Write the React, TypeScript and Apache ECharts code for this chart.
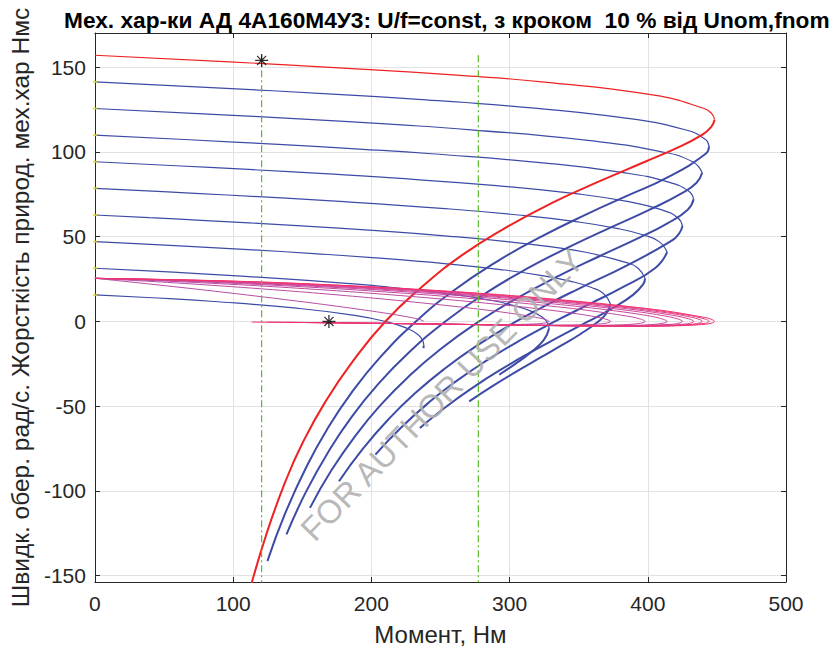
import React, { useEffect, useRef } from 'react';
import * as echarts from 'echarts';

// ---- Speed characteristics ω(M): upper (stable) and lower branches ----
const speed100Upper = [[0,157.08],[97.4,153.15],[185.9,149.23],[261.9,145.3],[323.4,141.37],[404.6,133.52],[440.8,125.66],[446.4,122.52],[448.3,119.06]];
const speed100Lower = [[448.3,119.06],[445.8,114.67],[438.9,109.96],[420.4,102.1],[398.0,94.25],[364.4,82.47],[332.6,70.69],[296.4,54.98],[265.9,39.27],[235.5,19.64],[210.1,0],[186.5,-23.56],[166.9,-47.12],[150.8,-70.69],[137.9,-94.25],[124.0,-125.66],[112.5,-157.08]];
const speed90Upper = [[0,141.37],[87.8,137.84],[168.6,134.3],[239.5,130.77],[298.9,127.23],[382.8,120.17],[427.1,113.1],[441.7,107.44],[444.3,103.38]];
const speed90Lower = [[444.3,103.38],[441.9,98.96],[413.9,84.82],[385.3,74.22],[356.7,63.62],[321.5,49.48],[290.8,35.34],[258.6,17.67],[232.2,0],[206.3,-21.21],[185.3,-42.41],[168.0,-63.62],[153.6,-84.82],[137.7,-113.1],[124.8,-141.37]];
const speed80Upper = [[0,125.66],[78.2,122.52],[150.9,119.38],[216.0,116.24],[272.2,113.1],[356.7,106.81],[407.5,100.53],[432.4,94.25],[439.4,87.71]];
const speed80Lower = [[439.4,87.71],[435.1,81.68],[424.1,75.4],[401.4,65.97],[376.1,56.55],[343.2,43.98],[313.2,31.42],[280.8,15.71],[253.5,0],[226.4,-18.85],[204.1,-37.7],[185.5,-56.55],[170.0,-75.4],[152.7,-100.53],[138.6,-125.66]];
const speed70Upper = [[0,109.96],[68.5,107.21],[132.8,104.46],[191.5,101.71],[243.4,98.96],[326.0,93.46],[381.3,87.96],[413.9,82.47],[429.5,76.97],[433.2,72.06]];
const speed70Lower = [[433.2,72.06],[428.9,65.97],[413.9,57.73],[393.9,49.48],[365.0,38.48],[337.0,27.49],[305.4,13.74],[277.8,0],[249.7,-16.49],[226.3,-32.99],[206.5,-49.48],[189.8,-65.97],[171.0,-87.96],[155.6,-109.96]];
const speed60Upper = [[0,94.25],[58.8,91.89],[114.4,89.54],[166.0,87.18],[212.7,84.82],[290.6,80.11],[347.7,75.4],[386.2,70.69],[409.7,65.97],[421.6,61.26],[425.1,56.44]];
const speed60Lower = [[425.1,56.44],[422.6,51.84],[416.1,47.12],[384.7,32.99],[348.8,18.85],[325.9,9.42],[304.8,0],[276.6,-14.14],[252.4,-28.27],[231.6,-42.41],[213.7,-56.55],[193.5,-75.4],[176.6,-94.25]];
const speed50Upper = [[0,78.54],[49.1,76.58],[95.8,74.61],[180.3,70.69],[250.7,66.76],[306.3,62.83],[348.0,58.91],[377.5,54.98],[396.9,51.05],[408.2,47.12],[414.0,40.88]];
const speed50Lower = [[414.0,40.88],[405.2,31.42],[380.6,19.64],[356.6,9.82],[332.8,0],[306.2,-11.78],[282.4,-23.56],[261.2,-35.34],[242.6,-47.12],[221.2,-62.83],[202.9,-78.54]];
const speed40Upper = [[0,62.83],[39.3,61.26],[76.9,59.69],[146.2,56.55],[206.5,53.41],[257.0,50.27],[298.2,47.12],[330.6,43.98],[355.2,40.84],[385.3,34.56],[393.0,31.42],[398.0,25.43]];
const speed40Lower = [[398.0,25.43],[396.7,21.99],[389.3,15.71],[374.5,7.85],[356.9,0],[335.0,-9.42],[313.8,-18.85],[294.0,-28.27],[275.8,-37.7],[254.1,-50.27],[235.1,-62.83]];
const speed30Upper = [[0,47.12],[29.5,45.95],[57.9,44.77],[110.9,42.41],[158.5,40.06],[200.4,37.7],[252.8,34.16],[293.4,30.63],[323.6,27.1],[345.1,23.56],[359.3,20.03],[367.9,16.49],[373.0,10.27]];
const speed30Lower = [[373.0,10.27],[370.0,4.71],[364.2,0],[351.9,-7.07],[337.5,-14.14],[322.5,-21.21],[307.6,-28.27],[288.5,-37.7],[270.8,-47.12]];
const speed20Upper = [[0,31.42],[38.6,29.85],[74.5,28.27],[137.5,25.13],[177.3,22.78],[210.9,20.42],[262.0,15.71],[285.8,12.57],[303.1,9.42],[315.0,6.28],[322.6,3.14],[326.9,0],[328.6,-3.99]];
const speed20Lower = [[328.6,-3.99],[324.7,-11.0],[314.4,-18.85],[303.9,-25.13],[292.5,-31.42]];
const speed10Upper = [[0,15.71],[38.1,14.14],[86.3,11.78],[145.8,7.85],[185.2,3.93],[210.4,0],[225.6,-3.93],[233.9,-7.85],[237.4,-11.78],[237.9,-14.06]];
const speed10Lower = [[237.9,-14.06],[237.7,-15.71]];

// ---- Stiffness β(M) loops ----
const stiff100 = [[0,25.46],[97.4,23.88],[185.9,21.07],[261.9,17.54],[323.4,13.81],[404.6,7.13],[440.8,2.45],[446.4,1.14],[448.3,0],[445.8,-1.06],[438.9,-1.83],[421.4,-2.52],[400.5,-2.76],[337.1,-2.49],[270.4,-1.78],[213.6,-1.17],[169.4,-0.75],[139.9,-0.52],[113.3,-0.34]];
const stiff90 = [[0,25.46],[87.8,24.02],[168.6,21.57],[239.5,18.47],[298.9,15.12],[382.8,8.81],[427.1,4.0],[441.7,1.35],[444.3,0],[441.9,-1.05],[413.9,-2.56],[385.3,-2.75],[356.7,-2.64],[321.5,-2.33],[290.8,-2.01],[232.2,-1.36],[185.3,-0.89],[153.6,-0.62],[124.8,-0.42]];
const stiff80 = [[0,25.46],[78.2,24.15],[150.9,22.03],[216.0,19.35],[272.2,16.4],[356.7,10.59],[407.5,5.8],[432.4,2.34],[439.4,0],[435.1,-1.32],[424.1,-2.11],[401.4,-2.62],[376.1,-2.69],[343.2,-2.52],[313.2,-2.24],[253.5,-1.59],[204.1,-1.07],[170.0,-0.76],[138.6,-0.51]];
const stiff70 = [[0,25.46],[68.5,24.26],[132.8,22.44],[191.5,20.16],[243.4,17.63],[326.0,12.43],[381.3,7.83],[413.9,4.22],[429.5,1.61],[433.2,0],[428.9,-1.3],[413.9,-2.22],[393.9,-2.58],[365.0,-2.62],[337.0,-2.45],[277.8,-1.86],[226.3,-1.3],[189.8,-0.94],[155.6,-0.64]];
const stiff60 = [[0,25.46],[58.8,24.36],[114.4,22.8],[166.0,20.9],[212.7,18.76],[290.6,14.27],[347.7,10.04],[386.2,6.45],[409.7,3.63],[421.6,1.53],[425.1,0],[422.6,-1.01],[416.1,-1.7],[384.7,-2.52],[348.8,-2.5],[325.9,-2.34],[304.8,-2.14],[252.4,-1.58],[213.7,-1.18],[176.6,-0.82]];
const stiff50 = [[0,25.46],[49.1,24.45],[95.8,23.12],[180.3,19.79],[250.7,16.04],[306.3,12.33],[348.0,8.98],[377.5,6.14],[396.9,3.83],[408.2,2.02],[414.0,0],[405.2,-1.64],[380.6,-2.37],[356.6,-2.46],[332.8,-2.36],[306.2,-2.15],[282.4,-1.91],[242.6,-1.48],[221.2,-1.26],[202.9,-1.07]];
const stiff40 = [[0,25.46],[39.3,24.52],[76.9,23.38],[146.2,20.67],[206.5,17.65],[257.0,14.58],[298.2,11.66],[330.6,9.01],[355.2,6.7],[385.3,3.13],[393.0,1.81],[398.0,0],[396.7,-0.71],[389.3,-1.58],[374.5,-2.12],[356.9,-2.31],[335.0,-2.31],[313.8,-2.19],[275.8,-1.84],[254.1,-1.62],[235.1,-1.42]];
const stiff30 = [[0,25.46],[29.5,24.57],[57.9,23.58],[110.9,21.38],[158.5,19.01],[200.4,16.6],[252.8,13.1],[293.4,9.94],[323.6,7.23],[345.1,4.98],[359.3,3.17],[367.9,1.75],[373.0,0],[370.0,-0.97],[364.2,-1.49],[351.9,-1.93],[337.5,-2.1],[322.5,-2.13],[307.6,-2.08],[288.5,-1.95],[270.8,-1.8]];
const stiff20 = [[0,25.46],[38.6,23.73],[74.5,21.91],[137.5,18.22],[177.3,15.55],[210.9,13.06],[262.0,8.77],[285.8,6.47],[303.1,4.58],[315.0,3.06],[322.6,1.85],[326.9,0.9],[328.6,0],[324.7,-1.0],[314.4,-1.56],[303.9,-1.76],[292.5,-1.83]];
const stiff10 = [[0,25.46],[19.7,23.82],[38.1,22.23],[86.3,17.9],[145.8,12.09],[185.2,7.87],[210.4,4.89],[225.6,2.82],[233.9,1.39],[237.4,0.41],[237.9,0],[237.7,-0.25]];

// ---- Reference values ----
const refTorques = [120.6, 277.4];       // Mnom, Mmax (dash-dot verticals)
const refSpeedTop = 157.08;
const starPoints = [[120.6, 154.0], [169.3, 0]];
const noLoadSpeeds = [141.37, 125.66, 109.96, 94.25, 78.54, 62.83, 47.12, 31.42, 15.71];

const xTicks = [0, 100, 200, 300, 400, 500];
const yTicks = [-150, -100, -50, 0, 50, 100, 150];

const TITLE = 'Мех. хар-ки АД 4А160М4У3: U/f=const, з кроком  10 % від Unom,fnom';
const X_NAME = 'Момент, Нм';
const Y_NAME = 'Швидк. обер. рад/с. Жорсткість природ. мех.хар Нмс';

const RED = '#ee2222';
const BLUE = '#3d4ba6';
const stiffColors = ['#f5306a', '#e83a80', '#dc3e8c', '#d44294', '#cc4498', '#c6469c', '#c0489e', '#bc4aa0', '#b84ca2', '#b44ea4'];

const FONT = '"Liberation Sans", Arial, Helvetica, sans-serif';
const AX = '#262626';

export default function App() {
  const ref = useRef<HTMLDivElement>(null);
  useEffect(() => {
    if (!ref.current) return;
    const chart = echarts.init(ref.current, undefined, { renderer: 'svg' });

    const speedSets = [
      [speed100Upper, speed100Lower], [speed90Upper, speed90Lower], [speed80Upper, speed80Lower],
      [speed70Upper, speed70Lower], [speed60Upper, speed60Lower], [speed50Upper, speed50Lower],
      [speed40Upper, speed40Lower], [speed30Upper, speed30Lower], [speed20Upper, speed20Lower],
      [speed10Upper, speed10Lower],
    ];
    const stiffSets = [stiff100, stiff90, stiff80, stiff70, stiff60, stiff50, stiff40, stiff30, stiff20, stiff10];

    const series: any[] = [];
    for (let i = speedSets.length - 1; i >= 0; i--) {
      const color = i === 0 ? RED : BLUE;
      series.push({ type: 'line', data: speedSets[i][0], showSymbol: false, smooth: 0.5, lineStyle: { color, width: 1.2 }, z: 2 });
      series.push({ type: 'line', data: speedSets[i][1], showSymbol: false, smooth: 0.5, lineStyle: { color, width: 2 }, z: 2 });
    }
    for (let i = stiffSets.length - 1; i >= 0; i--) {
      series.push({ type: 'line', data: stiffSets[i], showSymbol: false, smooth: 0.4, lineStyle: { color: stiffColors[i], width: 1 }, z: 3 });
    }
    refTorques.forEach((t) => {
      series.push({
        type: 'line', data: [[t, refSpeedTop], [t, -170]], showSymbol: false,
        lineStyle: { color: '#5cb82e', width: 1.2, type: [7, 3, 2, 3] }, z: 4,
      });
    });
    series.push({
      type: 'scatter', data: noLoadSpeeds.map((w) => [0, w]), symbol: 'rect', symbolSize: [4, 2],
      itemStyle: { color: '#e6d820' }, z: 5,
    });
    series.push({
      type: 'scatter', data: starPoints,
      symbol: 'path://M-0.6,-6 L0.6,-6 L0.6,6 L-0.6,6 Z M-6,-0.6 L6,-0.6 L6,0.6 L-6,0.6 Z M-3.8,-4.6 L4.6,3.8 L3.8,4.6 L-4.6,-3.8 Z M-4.6,3.8 L3.8,-4.6 L4.6,-3.8 L-3.8,4.6 Z',
      symbolSize: 13, itemStyle: { color: '#000' }, z: 6,
    });

    const yFmt = (v: number) => (yTicks.includes(Math.round(v)) && Math.abs(v - Math.round(v)) < 1e-6 ? String(Math.round(v)) : '');
    const xFmt = (v: number) => (xTicks.includes(v) ? String(v) : '');

    const frameAxis = {
      axisLine: { show: true, onZero: false, lineStyle: { color: AX, width: 1 } },
      axisTick: { show: true, inside: true, length: 5, lineStyle: { color: AX } },
    };

    chart.setOption({
      animation: false,
      backgroundColor: '#ffffff',
      title: {
        text: TITLE, left: 59, top: 3,
        textStyle: { fontSize: 22.7, fontWeight: 'bold', color: '#000', fontFamily: FONT },
      },
      grid: { left: 92, right: 54, top: 33, bottom: 69, containLabel: false },
      xAxis: [
        {
          type: 'value', min: 0, max: 500, interval: 100, position: 'bottom',
          name: X_NAME, nameLocation: 'middle', nameGap: 40,
          nameTextStyle: { fontSize: 24, color: AX, fontFamily: FONT },
          ...frameAxis,
          axisLabel: { color: AX, fontSize: 21, margin: 11, fontFamily: FONT, formatter: xFmt },
          splitLine: { show: true, lineStyle: { color: '#e2e2e2', width: 1 } },
        },
        {
          type: 'value', min: 0, max: 500, interval: 100, position: 'top',
          ...frameAxis,
          axisLabel: { show: false }, splitLine: { show: false },
        },
      ],
      yAxis: [
        {
          type: 'value', min: -153.7, max: 170.2, splitNumber: 6, position: 'left',
          name: Y_NAME, nameLocation: 'middle', nameGap: 58,
          nameTextStyle: { fontSize: 24.5, color: AX, fontFamily: FONT },
          ...frameAxis,
          axisLabel: { color: AX, fontSize: 21, margin: 9, fontFamily: FONT, formatter: yFmt },
          splitLine: { show: true, lineStyle: { color: '#e2e2e2', width: 1 } },
        },
        {
          type: 'value', min: -153.7, max: 170.2, splitNumber: 6, position: 'right',
          ...frameAxis,
          axisLabel: { show: false }, splitLine: { show: false },
        },
      ],
      graphic: [
        {
          type: 'text', x: 442, y: 395, rotation: (46 * Math.PI) / 180, z: 100,
          style: {
            text: 'FOR AUTHOR USE ONLY', fill: '#b0b0b0', fontSize: 33, fontFamily: FONT,
            textAlign: 'center', textVerticalAlign: 'middle', opacity: 0.9,
          },
        },
      ],
      series,
    });
    return () => chart.dispose();
  }, []);

  return <div ref={ref} style={{ position: 'absolute', left: 0, top: 0, width: 840, height: 651, background: '#fff' }} />;
}
